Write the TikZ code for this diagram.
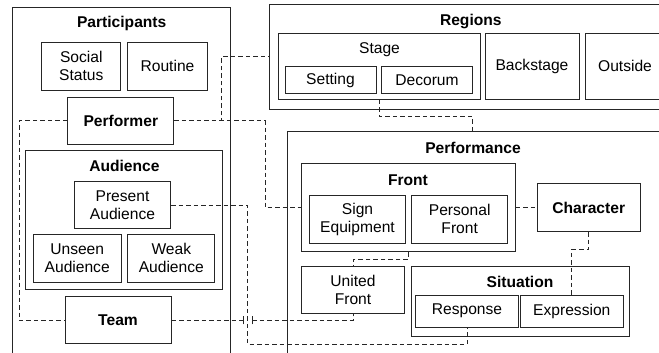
\documentclass[tikz,border=0pt]{standalone}
\usepackage{fontspec}
\setmainfont{Liberation Sans}
\usetikzlibrary{positioning}

\begin{document}
\begin{tikzpicture}[x=1pt, y=-1pt,
	every node/.style={font=\fontsize{15.6}{18}\selectfont},
	box/.style={draw=black!85, line width=1pt, inner sep=0pt, align=center},
	group/.style={draw=black!85, line width=1pt, inner sep=0pt},
	heading/.style={font=\fontsize{15.6}{18}\selectfont\bfseries},
	link/.style={draw=black!85, line width=1pt, dash pattern=on 4.5pt off 3pt}]

\useasboundingbox (0,0) rectangle (659,353);
\clip (0,0) rectangle (659,353);

% participants side
\node[group, minimum width=218pt, minimum height=393pt] (participants) at (121.7,203.7) {};
\node[heading] (participantstitle) at (121.7,23) {Participants};
\node[box, minimum width=79.3pt, minimum height=47.7pt] (socialstatus) at (81.3,66.2) {Social\\Status};
\node[box, minimum width=79.6pt, minimum height=47.7pt] (routine) at (167.5,66.2) {Routine};
\node[box, heading, minimum width=106.3pt, minimum height=47.3pt] (performer) at (120.8,120.7) {Performer};
\node[group, minimum width=197pt, minimum height=139pt] (audience) at (124.2,219.8) {};
\node[heading] (audiencetitle) at (124.4,166) {Audience};
\node[box, minimum width=96.4pt, minimum height=47.3pt] (presentaud) at (122.5,205.3) {Present\\Audience};
\node[box, minimum width=87.7pt, minimum height=48pt] (unseenaud) at (77.2,258.3) {Unseen\\Audience};
\node[box, minimum width=87.3pt, minimum height=48pt] (weakaud) at (171.3,258.3) {Weak\\Audience};
\node[box, heading, minimum width=106pt, minimum height=47.3pt] (team) at (118,320.3) {Team};

% regions
\node[group, minimum width=403pt, minimum height=104pt] (regions) at (470.5,57) {};
\node[heading] (regionstitle) at (470.8,21.7) {Regions};
\node[group, minimum width=202.4pt, minimum height=66pt] (stage) at (379.5,66.3) {};
\node (stagetitle) at (379.5,50) {Stage};
\node[box, minimum width=91pt, minimum height=26.6pt] (setting) at (330.5,80) {Setting};
\node[box, minimum width=90.6pt, minimum height=26.6pt] (decorum) at (427,80) {Decorum};
\node[box, minimum width=94pt, minimum height=66pt] (backstage) at (532,66.3) {Backstage};
\node[box, minimum width=80pt, minimum height=66pt] (outside) at (625,66.3) {Outside};

% performance
\node[group, minimum width=373.3pt, minimum height=268.3pt] (performance) at (474.35,265.85) {};
\node[heading] (performancetitle) at (473,147.7) {Performance};
\node[group, minimum width=214pt, minimum height=88.4pt] (front) at (408,207.5) {};
\node[heading] (fronttitle) at (408,180) {Front};
\node[box, minimum width=96.4pt, minimum height=48.3pt] (signequip) at (357.5,219.2) {Sign\\Equipment};
\node[box, minimum width=96pt, minimum height=48.3pt] (personalfront) at (459.7,219.2) {Personal\\Front};
\node[box, heading, minimum width=102.7pt, minimum height=47.7pt] (character) at (588.7,207.8) {Character};
\node[box, minimum width=102.6pt, minimum height=47.3pt] (unitedfront) at (353,290.3) {United\\Front};
\node[group, minimum width=217.3pt, minimum height=69.3pt] (situation) at (520.35,301.35) {};
\node[heading] (situationtitle) at (520,282.3) {Situation};
\node[box, minimum width=102.6pt, minimum height=32pt] (response) at (467,311) {Response};
\node[box, minimum width=103pt, minimum height=32pt] (expression) at (571.8,311) {Expression};

% connectors
\coordinate (leftbus) at (19,0);
\coordinate (regionbus) at (221.7,0);
\coordinate (frontbus) at (265,0);
\coordinate (audbus) at (247.7,344.3);
\coordinate (jumpleft) at (243.5,0);
\coordinate (jumpright) at (252,0);

\draw[link] (performer.west) -| (team.west -| leftbus) -- (team.west);
\draw[link] (performer.east) -| (regions.west -| regionbus) -- (regions.west);
\draw[link] (performer.east) -| (front.west -| frontbus) -- (front.west);
\draw[link] (stage.south) -- ++(0,16.7) -| ([xshift=-2pt]performance.north);
\draw[link] (front.east) -- (front.east -| character.west);
\draw[link] (character.south) -- ++(0,17.3) -| (expression.north);
\draw[link] (front.south) -- ++(0,7.3) -| (unitedfront.north);
\draw[link] (team.east) -- (team.east -| jumpleft);
\draw[link] (team.east -| jumpright) -| (unitedfront.south);
\draw[draw=black!85, line width=1pt] ([yshift=-4pt]team.east -| jumpleft) -- ([yshift=4pt]team.east -| jumpleft);
\draw[draw=black!85, line width=1pt] ([yshift=-4pt]team.east -| jumpright) -- ([yshift=4pt]team.east -| jumpright);
\draw[link] (presentaud.east) -| (audbus) -| (response.south);

\end{tikzpicture}
\end{document}
